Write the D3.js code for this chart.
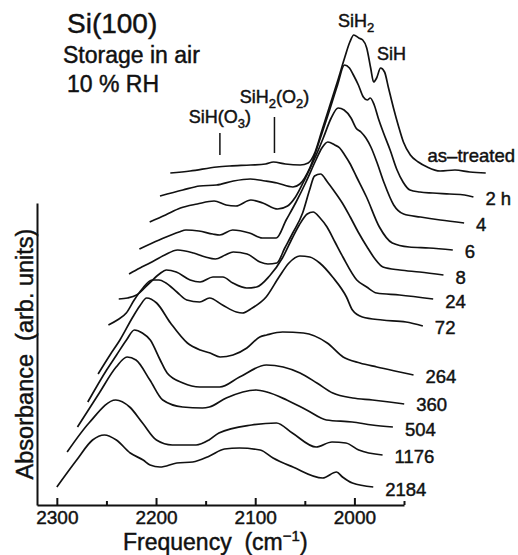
<!DOCTYPE html>
<html lang="en">
<head>
<meta charset="UTF-8">
<title>Si(100) - storage in air</title>
<script src="https://cdn.jsdelivr.net/npm/d3@7"></script>
<style>
  body { margin: 0; background: #fff; }
  svg text { font-family: "Liberation Sans", Arial, Helvetica, sans-serif; fill: #111; stroke: #111; stroke-width: 0.45px; }
  .spectrum { fill: none; stroke: #111; stroke-width: 1.7px; stroke-linejoin: round; }
  .axis path, .axis line { stroke: #111; stroke-width: 2px; }
</style>
</head>
<body>
<svg width="518" height="555"></svg>
<script>
// storage times (top to bottom)
const labels = ["as\u2013treated", "2 h", "4", "6", "8", "24", "72", "264", "360", "504", "1176", "2184"];

// spectra: [frequency cm-1, absorbance above the trace's own baseline]
const asTreated = [[2300,0],[2280,.02],[2253,.06],[2240,.07],[2219,.08],[2204,.09],[2196,.11],[2184,.09],[2169,.08],[2161,.10],[2154,.21],[2147,.43],[2139,.68],[2131,.93],[2124,1.16],[2119,1.31],[2115,1.38],[2110,1.35],[2106,1.33],[2102,1.25],[2098,1.05],[2095,.91],[2092,.95],[2088,1.05],[2084,1.01],[2080,.85],[2075,.65],[2070,.47],[2065,.31],[2058,.18],[2050,.11],[2041,.06],[2028,.02],[2013,.03],[1998,.01],[1982,0]];
const h2 = [[2300,0],[2277,.06],[2260,.10],[2243,.11],[2226,.15],[2209,.17],[2194,.15],[2182,.13],[2166,.09],[2159,.12],[2149,.28],[2139,.56],[2129,.86],[2121,1.11],[2114,1.31],[2109,1.28],[2105,1.21],[2100,1.11],[2095,.99],[2091,.96],[2088,.98],[2084,.91],[2080,.78],[2075,.64],[2068,.46],[2061,.26],[2055,.14],[2048,.06],[2038,.04],[2025,.03],[2008,.02],[1993,.01],[1984,-.01]];
const h4 = [[2300,0],[2284,.07],[2269,.14],[2252,.18],[2235,.21],[2223,.17],[2213,.16],[2198,.22],[2186,.19],[2171,.13],[2161,.16],[2153,.25],[2143,.44],[2133,.65],[2125,.84],[2117,1.04],[2110,1.14],[2104,1.12],[2097,1.04],[2092,.94],[2087,.90],[2082,.84],[2077,.75],[2071,.60],[2064,.40],[2054,.17],[2044,.08],[2027,.05],[2007,.02],[1983,-.01]];
const h6 = [[2300,0],[2280,.09],[2260,.17],[2253,.19],[2240,.18],[2226,.15],[2219,.14],[2206,.19],[2189,.16],[2176,.11],[2162,.11],[2152,.29],[2142,.47],[2132,.67],[2122,.89],[2116,1.01],[2110,1.07],[2103,1.04],[2098,1.01],[2093,.94],[2088,.86],[2081,.72],[2071,.52],[2058,.22],[2045,.06],[2028,.02],[2008,.01],[1984,-.01]];
const h8 = [[2300,.01],[2289,.07],[2279,.12],[2264,.20],[2251,.25],[2235,.22],[2223,.18],[2213,.16],[2203,.20],[2195,.23],[2181,.21],[2168,.13],[2160,.11],[2151,.12],[2143,.27],[2135,.42],[2125,.62],[2118,.85],[2113,.99],[2107,1.01],[2100,.93],[2094,.85],[2085,.72],[2077,.58],[2069,.43],[2060,.28],[2052,.16],[2044,.08],[2027,.05],[2007,.03],[1983,0]];
const h24 = [[2300,0],[2291,.01],[2282,.04],[2269,.16],[2259,.25],[2252,.29],[2242,.27],[2228,.19],[2218,.17],[2205,.22],[2195,.22],[2185,.16],[2171,.11],[2161,.12],[2148,.23],[2135,.41],[2125,.61],[2118,.74],[2110,.85],[2104,.87],[2097,.81],[2090,.72],[2082,.57],[2074,.42],[2060,.19],[2050,.12],[2040,.06],[2017,.04],[1983,0]];
const h72 = [[2300,0],[2291,.05],[2282,.12],[2274,.25],[2266,.36],[2256,.45],[2249,.45],[2242,.42],[2231,.33],[2221,.25],[2208,.23],[2198,.27],[2185,.20],[2171,.13],[2165,.12],[2155,.17],[2141,.28],[2128,.48],[2118,.62],[2107,.69],[2097,.68],[2087,.62],[2074,.48],[2060,.28],[2054,.15],[2044,.08],[2024,.05],[2000,.03],[1983,-.01]];
const h264 = [[2300,0],[2288,.19],[2278,.34],[2265,.57],[2258,.68],[2251,.76],[2241,.71],[2227,.51],[2210,.31],[2197,.24],[2187,.21],[2177,.17],[2164,.19],[2150,.26],[2137,.37],[2130,.39],[2114,.42],[2093,.41],[2069,.31],[2053,.17],[2036,.11],[2019,.07],[1996,.02],[1982,-.01]];
const h360 = [[2300,0],[2281,.32],[2271,.47],[2261,.62],[2253,.72],[2245,.69],[2237,.62],[2227,.42],[2220,.29],[2204,.19],[2187,.15],[2167,.15],[2147,.25],[2120,.37],[2103,.35],[2086,.29],[2069,.19],[2053,.09],[2033,.04],[2013,.02],[1996,0],[1981,-.02]];
const h504 = [[2300,0],[2278,.34],[2261,.60],[2250,.70],[2241,.67],[2227,.47],[2214,.27],[2194,.20],[2174,.19],[2167,.20],[2150,.29],[2120,.37],[2109,.35],[2089,.27],[2069,.17],[2049,.07],[2023,.05],[2003,.02],[1982,0]];
const h1176 = [[2300,.02],[2278,.31],[2251,.54],[2237,.47],[2224,.31],[2210,.14],[2194,.09],[2170,.09],[2157,.14],[2147,.21],[2114,.29],[2089,.31],[2073,.21],[2049,.07],[2033,.12],[2019,.11],[2006,.04],[1982,-.01]];
const h2184 = [[2300,0],[2280,.27],[2264,.47],[2252,.52],[2240,.47],[2226,.34],[2213,.27],[2206,.22],[2196,.20],[2179,.24],[2163,.25],[2146,.31],[2131,.38],[2116,.39],[2095,.37],[2082,.29],[2062,.20],[2032,.09],[2018,.15],[2012,.10],[2002,.04],[1981,0]];

const spectra = [asTreated, h2, h4, h6, h8, h24, h72, h264, h360, h504, h1176, h2184];

// vertical offset of each trace (absorbance units) and horizontal step between traces (cm-1)
const baselines = [3.32, 3.09, 2.83, 2.56, 2.30, 2.06, 1.80, 1.31, 1.03, 0.78, 0.51, 0.18];
const freqStep = 10.4;

const xTicks = [2300, 2200, 2100, 2000];
const xMinorTicks = [2250, 2150, 2050, 1950];

// band markers on the top trace
const markers = [
    { name: "SiH", sub: "O", idx: "3", freq: 2250, top: 133, bottom: 155, ty: 123 },
    { name: "SiH", h: "2", sub: "O", idx: "2", freq: 2195, top: 117, bottom: 153, ty: 103 }
];

const svg = d3.select("svg");

const x = d3.scaleLinear().domain([2320, 1950]).range([37, 404]);
const y = d3.scaleLinear().domain([0, 3.02]).range([505, 203]);

// shift of trace i (top = 0) in frequency
const shift = i => (spectra.length - 1 - i) * freqStep;

const line = d3.line().curve(d3.curveMonotoneX);

spectra.forEach((s, i) => {
    svg.append("path")
        .attr("class", "spectrum")
        .attr("d", line(s.map(d => [x(d[0] - shift(i)), y(d[1] + baselines[i])])));
});

// trace labels
spectra.forEach((s, i) => {
    const last = s[s.length - 1];
    const ex = x(last[0] - shift(i));
    const t = svg.append("text")
        .style("font-size", "18.5px")
        .text(labels[i]);
    if (i === 0) {
        t.attr("x", 515).attr("y", 162).attr("text-anchor", "end");
    } else {
        t.attr("x", ex + 12).attr("y", y(baselines[i]) + 9);
    }
});

// axes
const xAxis = svg.append("g")
    .attr("class", "axis")
    .attr("transform", "translate(0,505)")
    .call(d3.axisBottom(x).tickValues(xTicks).tickSizeInner(-7).tickSizeOuter(0).tickPadding(6).tickFormat(d3.format("d")));
xAxis.selectAll("text").style("font-size", "19px").attr("font-family", null);

svg.append("g")
    .attr("class", "axis")
    .attr("transform", "translate(0,505)")
    .call(d3.axisBottom(x).tickValues(xMinorTicks).tickSizeInner(-4).tickSizeOuter(0).tickFormat(""))
    .select(".domain").remove();

svg.append("g")
    .attr("class", "axis")
    .attr("transform", "translate(37,0)")
    .call(d3.axisLeft(y).tickValues([]).tickSizeOuter(0));

// axis titles
const xt = svg.append("text")
    .attr("x", 123).attr("y", 550)
    .style("font-size", "23px");
xt.append("tspan").text("Frequency\u00a0\u00a0(cm");
xt.append("tspan").attr("dy", -9).style("font-size", "15px").text("\u22121");
xt.append("tspan").attr("dy", 9).text(")");

svg.append("text")
    .attr("transform", "translate(33,354) rotate(-90)")
    .attr("text-anchor", "middle")
    .style("font-size", "23.5px")
    .text("Absorbance\u00a0\u00a0(arb. units)");

// titles
svg.append("text").attr("x", 67).attr("y", 33).style("font-size", "28px").text("Si(100)");
svg.append("text").attr("x", 63).attr("y", 63).style("font-size", "23px").text("Storage in air");
svg.append("text").attr("x", 67).attr("y", 92).style("font-size", "23px").text("10 % RH");

// band markers
markers.forEach(m => {
    const mx = x(m.freq - shift(0));
    svg.append("line")
        .attr("x1", mx).attr("x2", mx)
        .attr("y1", m.top).attr("y2", m.bottom)
        .attr("stroke", "#111").attr("stroke-width", 1.5);
    const t = svg.append("text")
        .attr("x", mx).attr("y", m.ty)
        .attr("text-anchor", "middle")
        .style("font-size", "18px");
    t.append("tspan").text(m.name);
    if (m.h) {
        t.append("tspan").attr("dy", 5).style("font-size", "13px").text(m.h);
        t.append("tspan").attr("dy", -5).text("(" + m.sub);
    } else {
        t.append("tspan").text("(" + m.sub);
    }
    t.append("tspan").attr("dy", 5).style("font-size", "13px").text(m.idx);
    t.append("tspan").attr("dy", -5).text(")");
});

// main peak labels
const sih2 = svg.append("text").attr("x", 338).attr("y", 27).style("font-size", "18px");
sih2.append("tspan").text("SiH");
sih2.append("tspan").attr("dy", 5).style("font-size", "13px").text("2");
svg.append("text").attr("x", 377).attr("y", 60).style("font-size", "18px").text("SiH");
</script>
</body>
</html>
